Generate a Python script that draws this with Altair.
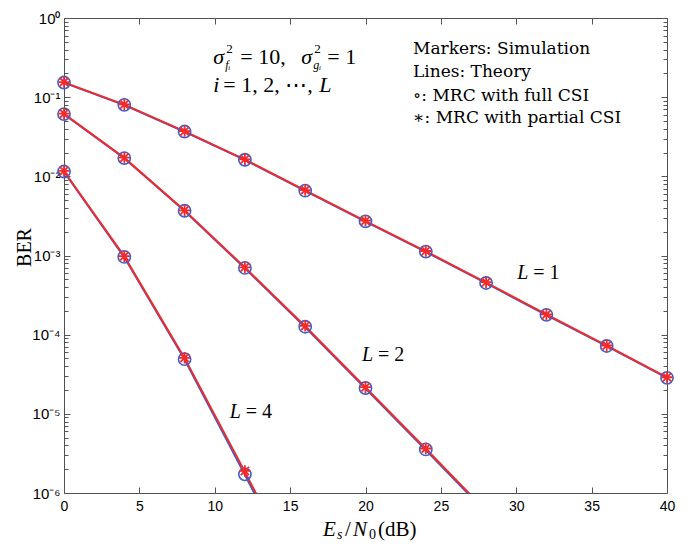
import altair as alt
import pandas as pd

# ---------------- data ----------------
snr_L1 = [0, 4, 8, 12, 16, 20, 24, 28, 32, 36, 40]
sim_full_L1 = [0.153, 0.080, 0.0368, 0.0162, 0.0066, 0.0027, 0.00112, 0.00045, 1.78e-4, 7.2e-5, 2.85e-5]
sim_part_L1 = [0.155, 0.081, 0.0372, 0.0164, 0.0067, 0.00275, 0.00114, 0.00046, 1.80e-4, 7.3e-5, 2.90e-5]
th_full_L1 = [0.152, 0.0795, 0.0366, 0.0161, 0.00655, 0.00268, 0.00111, 0.000447, 1.77e-4, 7.15e-5, 2.84e-5]
th_part_L1 = [0.154, 0.0805, 0.0370, 0.0163, 0.00665, 0.00272, 0.00113, 0.000455, 1.80e-4, 7.25e-5, 2.88e-5]

snr_sim_L2 = [0, 4, 8, 12, 16, 20, 24]
sim_full_L2 = [0.0611, 0.0170, 0.00367, 6.97e-4, 1.26e-4, 2.12e-5, 3.55e-6]
sim_part_L2 = [0.0618, 0.0172, 0.00372, 7.10e-4, 1.29e-4, 2.17e-5, 3.65e-6]
snr_th_L2 = [0, 4, 8, 12, 16, 20, 24, 28]
th_full_L2 = [0.0608, 0.0169, 0.00365, 6.90e-4, 1.24e-4, 2.09e-5, 3.50e-6, 5.7e-7]
th_part_L2 = [0.0615, 0.0171, 0.00370, 7.05e-4, 1.28e-4, 2.15e-5, 3.62e-6, 5.95e-7]

snr_sim_L4 = [0, 4, 8, 12]
sim_full_L4 = [0.0115, 9.6e-4, 4.9e-5, 1.72e-6]
sim_part_L4 = [0.0117, 9.8e-4, 5.1e-5, 1.90e-6]
snr_th_L4 = [0, 4, 8, 12, 16]
th_full_L4 = [0.0114, 9.5e-4, 4.85e-5, 1.70e-6, 5.5e-8]
th_part_L4 = [0.0116, 9.75e-4, 5.05e-5, 1.85e-6, 6.2e-8]

x_ticks = [0, 5, 10, 15, 20, 25, 30, 35, 40]
y_decades = [1e-6, 1e-5, 1e-4, 1e-3, 1e-2, 1e-1, 1]
y_labels = ["10⁰", "10⁻¹", "10⁻²", "10⁻³", "10⁻⁴", "10⁻⁵", "10⁻⁶"]
y_minor = [m * d for d in y_decades[:-1] for m in range(2, 10)]

# ---------------- tables ----------------
def rows(snr, ber, L, csi):
    return pd.DataFrame({"snr": snr, "ber": ber, "L": L, "csi": csi})

theory = pd.concat([
    rows(snr_L1, th_full_L1, 1, "full"), rows(snr_L1, th_part_L1, 1, "partial"),
    rows(snr_th_L2, th_full_L2, 2, "full"), rows(snr_th_L2, th_part_L2, 2, "partial"),
    rows(snr_th_L4, th_full_L4, 4, "full"), rows(snr_th_L4, th_part_L4, 4, "partial"),
])
sim = pd.concat([
    rows(snr_L1, sim_full_L1, 1, "full"), rows(snr_L1, sim_part_L1, 1, "partial"),
    rows(snr_sim_L2, sim_full_L2, 2, "full"), rows(snr_sim_L2, sim_part_L2, 2, "partial"),
    rows(snr_sim_L4, sim_full_L4, 4, "full"), rows(snr_sim_L4, sim_part_L4, 4, "partial"),
])

# ---------------- style ----------------
W, H = 603, 475
SERIF = "Liberation Serif"
SANS = "Liberation Sans"
BLUE = "#3f5fc8"
RED = "#f22a2a"
FRAME = "#505050"
TICK = "#555555"
TW = 1
MAJ = 6
MIN = 4
ASTERISK = "M-1,0L1,0M0,-1L0,1M-0.72,-0.72L0.72,0.72M-0.72,0.72L0.72,-0.72"

label_expr = "[" + ",".join("'%s'" % s for s in y_labels) + "][round(-log(datum.value)/LN10)]"

SX = alt.Scale(domain=[0, 40], nice=False, zero=False)
SY = alt.Scale(type="log", domain=[1e-6, 1], nice=False)

# main axes: ticks pointing inward (axis shifted inside by the tick length)
X = alt.X("snr:Q", scale=SX,
          axis=alt.Axis(orient="bottom", values=x_ticks, grid=False, labelFlush=False,
                        domain=False, ticks=True, tickSize=MAJ, offset=-MAJ, tickColor=TICK,
                        tickWidth=TW, tickOpacity=1,
                        labelFont=SANS, labelFontSize=14, labelColor="black",
                        labelPadding=6, title=None))
Y = alt.Y("ber:Q", scale=SY,
          axis=alt.Axis(orient="left", values=y_decades, labelExpr=label_expr, grid=False,
                        labelFlush=False, domain=False, ticks=True, tickSize=MAJ, offset=-MAJ,
                        tickColor=TICK, tickWidth=TW, tickOpacity=1,
                        labelFont=SANS, labelFontSize=15,
                        labelColor="black", labelPadding=4,
                        title="BER", titleFont=SERIF, titleFontSize=20,
                        titleFontWeight="normal", titleColor="black",
                        titleX=-40 - MAJ, titleY=229, titleAngle=270,
                        titleBaseline="middle", titleAlign="center"))
X0 = alt.X("snr:Q", scale=SX, axis=None)
Y0 = alt.Y("ber:Q", scale=SY, axis=None)


def tick_axis(orient, values, size):
    return alt.Axis(orient=orient, values=values, grid=False, domain=False, labels=False,
                    ticks=True, tickSize=size, offset=-size, tickColor=TICK,
                    tickWidth=TW, tickOpacity=1, title=None)


base_th = alt.Chart(theory)
base_sim = alt.Chart(sim)

line_full = base_th.transform_filter("datum.csi == 'full'").mark_line(
    clip=True, color=BLUE, strokeWidth=2).encode(x=X, y=Y, detail="L:N")
line_part = base_th.transform_filter("datum.csi == 'partial'").mark_line(
    clip=True, color=RED, strokeWidth=2).encode(x=X0, y=Y0, detail="L:N")
pts_full = base_sim.transform_filter("datum.csi == 'full'").mark_point(
    shape="circle", filled=False, size=150, strokeWidth=1.6, color=BLUE, opacity=1).encode(x=X0, y=Y0)
pts_part = base_sim.transform_filter("datum.csi == 'partial'").mark_point(
    shape=ASTERISK, filled=False, size=130, strokeWidth=1.8, color=RED, opacity=1).encode(x=X0, y=Y0)

# extra tick-only axes (top, right, minor) carried by invisible layers
xt = pd.DataFrame({"snr": x_ticks})
yt_major = pd.DataFrame({"ber": y_decades})
yt_minor = pd.DataFrame({"ber": y_minor})
tick_layers = [
    alt.Chart(xt).mark_point(opacity=0).encode(
        x=alt.X("snr:Q", scale=SX, axis=tick_axis("top", x_ticks, MAJ))),
    alt.Chart(yt_major).mark_point(opacity=0).encode(
        y=alt.Y("ber:Q", scale=SY, axis=tick_axis("right", y_decades, MAJ))),
    alt.Chart(yt_minor).mark_point(opacity=0).encode(
        y=alt.Y("ber:Q", scale=SY, axis=tick_axis("left", y_minor, MIN))),
    alt.Chart(yt_minor).mark_point(opacity=0).encode(
        y=alt.Y("ber:Q", scale=SY, axis=tick_axis("right", y_minor, MIN))),
]


def txt(s, snr, ber, dx=0, dy=0, size=20, italic=False, font=SERIF):
    df = pd.DataFrame({"snr": [snr], "ber": [ber], "t": [s]})
    return alt.Chart(df).mark_text(
        align="left", baseline="middle", dx=dx, dy=dy, fontSize=size, font=font,
        fontStyle="italic" if italic else "normal", color="black").encode(x=X0, y=Y0, text="t:N")


def title_piece(s, px, dy=0, size=21, italic=False):
    df = pd.DataFrame({"t": [s]})
    return alt.Chart(df).mark_text(
        align="left", baseline="middle", dy=dy, fontSize=size, font=SERIF,
        fontStyle="italic" if italic else "normal", color="black").encode(
        x=alt.value(px), y=alt.value(H + 37), text="t:N")


# annotation anchors (data coordinates)
A_SNR, A_BER1, A_BER2 = 9.9, 0.324, 0.144
LEG_SNR = 23.15
LEG_BER = [0.409, 0.209, 0.104, 0.055]
legend_text = ["Markers: Simulation", "Lines: Theory", "∘: MRC with full CSI", "∗: MRC with partial CSI"]
L_names = ["1", "2", "4"]
L_pos = [(30.06, 6.0e-4), (19.77, 5.5e-5), (11.0, 1.05e-5)]

texts = [
    txt("σ", A_SNR, A_BER1, 0, 0, 22, True),
    txt("2", A_SNR, A_BER1, 13, -8, 13),
    txt("fᵢ", A_SNR, A_BER1, 12, 8, 12, True),
    txt("= 10,", A_SNR, A_BER1, 27, 0, 22),
    txt("σ", A_SNR, A_BER1, 88, 0, 22, True),
    txt("2", A_SNR, A_BER1, 101, -8, 13),
    txt("gᵢ", A_SNR, A_BER1, 100, 8, 12, True),
    txt("=  1", A_SNR, A_BER1, 114, 0, 22),
    txt("i", A_SNR, A_BER2, 0, 0, 22, True),
    txt("= 1, 2, ⋯,", A_SNR, A_BER2, 10, 0, 22),
    txt("L", A_SNR, A_BER2, 106, 0, 22, True),
]
for s, b in zip(legend_text, LEG_BER):
    texts.append(txt(s, LEG_SNR, b, 0, 0, 17, False, "DejaVu Serif"))
for name, (s, b) in zip(L_names, L_pos):
    texts.append(txt("L", s, b, 0, 0, 20, True))
    texts.append(txt("= " + name, s, b, 16, 0, 20))

xtitle = [
    title_piece("E", 259, 0, 21, True),
    title_piece("s", 273, 5, 14, True),
    title_piece("/", 281, 0, 21),
    title_piece("N", 289, 0, 21, True),
    title_piece("0", 305, 5, 14),
    title_piece("(dB)", 314, 0, 21),
]

chart = alt.layer(
    line_full, line_part, pts_full, pts_part, *tick_layers, *texts, *xtitle
).properties(
    width=W, height=H,
    autosize=alt.AutoSizeParams(type="none"),
    padding={"left": 56, "top": 10, "right": 19, "bottom": 52},
    background="white",
).configure_view(stroke=FRAME, strokeWidth=1)

chart.save("out.html", embed_options={"renderer": "svg", "actions": False})
